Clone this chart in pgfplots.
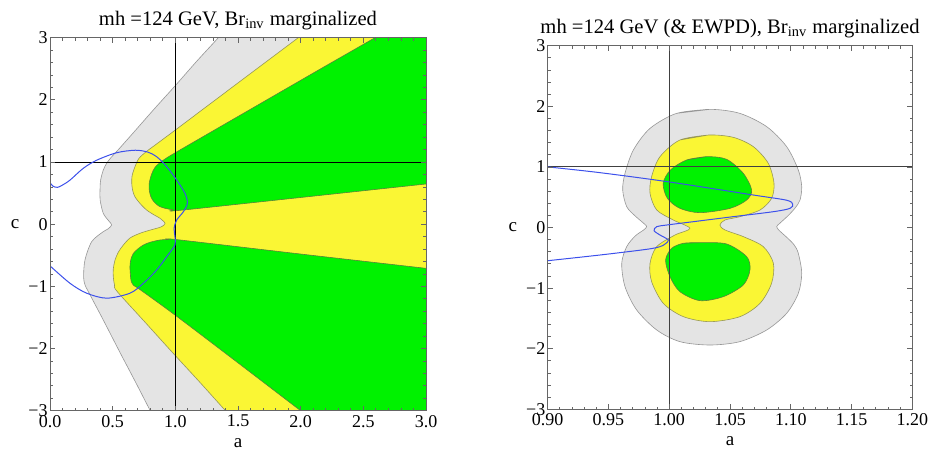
\documentclass[border=0pt]{standalone}
\usepackage{fontspec}
\setmainfont{Liberation Serif}
\usepackage{pgfplots}
\pgfplotsset{compat=1.18}
\definecolor{cgray}{RGB}{228,228,228}
\definecolor{cyellow}{RGB}{250,246,52}
\definecolor{cgreen}{RGB}{0,242,0}
\definecolor{egray}{RGB}{150,150,150}
\definecolor{eyellow}{RGB}{150,150,90}
\definecolor{egreen}{RGB}{90,130,60}
\definecolor{cblue}{RGB}{60,80,235}
\pgfplotsset{mystyle/.style={scale only axis, axis on top, tick align=inside,
  major tick length=2.6pt, minor tick length=1.4pt,
  axis line style={black!60, line width=0.4pt},
  every tick/.style={black!60, line width=0.4pt},
  /pgf/number format/assume math mode=true,
  tick label style={font=\fontsize{9}{10}\selectfont\rmfamily},
  yticklabel style={inner xsep=1pt},
  xticklabel style={inner ysep=2pt},
  every axis title shift=0pt,
  title style={font=\fontsize{10.3}{12}\selectfont, at={(0.5,1)}, anchor=base, yshift=6.3pt},
  label style={font=\fontsize{9.5}{11}\selectfont},
  ymin=-3, ymax=3, ytick={-3,-2,-1,0,1,2,3}, yticklabels={−3,−2,−1,0,1,2,3},
  minor y tick num=4, minor x tick num=4,
  ylabel=c, ylabel style={rotate=-90}, xlabel=a}}
\begin{document}
\begin{tikzpicture}[x=1pt,y=1pt]
\path[use as bounding box] (0,0) rectangle (465,227.5);
% ---------------- left panel ----------------
\begin{axis}[mystyle, at={(25pt,22.15pt)}, anchor=south west, width=188pt, height=186.5pt,
  xmin=0, xmax=3, xtick={0,0.5,1,1.5,2,2.5,3}, xticklabels={0.0,0.5,1.0,1.5,2.0,2.5,3.0},
  title={mh =124 GeV, Br\textsubscript{inv} marginalized}]
% gray region
\addplot[fill=cgray, draw=egray, line width=0.3pt, smooth] coordinates {
 (1.565,3.5) (1.343,3.0) (1.17,2.62) (1.0,2.23) (0.83,1.85) (0.66,1.46) (0.541,1.19)
 (0.49,1.08) (0.452,0.98) (0.425,0.87) (0.404,0.71) (0.399,0.55) (0.40,0.39) (0.425,0.175)
 (0.47,0.05) (0.492,-0.013) (0.46,-0.08) (0.425,-0.12) (0.333,-0.28) (0.279,-0.576)
 (0.268,-0.85) (0.28,-0.98) (0.31,-1.1) (0.43,-1.56) (0.555,-2.05) (0.68,-2.53) (0.80,-3.0)
 (0.93,-3.5) (3.5,-3.5) (3.5,3.5)} -- cycle;
% yellow region
\addplot[fill=cyellow, draw=eyellow, line width=0.3pt, smooth] coordinates {
 (2.31,3.5) (1.981,3.0) (1.65,2.5) (1.32,2.0) (1.0,1.515) (0.85,1.29) (0.77,1.17)
 (0.71,1.06) (0.678,0.925) (0.655,0.78) (0.652,0.658) (0.66,0.54) (0.678,0.44) (0.72,0.33)
 (0.771,0.228) (0.83,0.15) (0.878,0.095) (0.918,0.014) (0.89,-0.04) (0.851,-0.066)
 (0.79,-0.10) (0.718,-0.146) (0.64,-0.22) (0.585,-0.335) (0.545,-0.45) (0.519,-0.576)
 (0.505,-0.72) (0.505,-0.844) (0.515,-0.98) (0.535,-1.08) (0.76,-1.58) (0.98,-2.07)
 (1.19,-2.53) (1.40,-3.0) (1.625,-3.5) (3.5,-3.5) (3.5,3.5)} -- cycle;
% green upper
\addplot[fill=cgreen, draw=egreen, line width=0.3pt, smooth] coordinates {
 (3.02,3.5) (2.593,3.0) (2.16,2.5) (1.73,2.0) (1.30,1.5) (1.0,1.15) (0.904,1.03)
 (0.84,0.92) (0.81,0.80) (0.792,0.66) (0.792,0.55) (0.805,0.44) (0.83,0.36) (0.87,0.29)
 (0.92,0.255) (0.98,0.232) (1.03,0.222) (2.0,0.43) (3.0,0.647) (3.5,0.755) (3.5,3.5)} -- cycle;
% green lower
\addplot[fill=cgreen, draw=egreen, line width=0.3pt, smooth] coordinates {
 (3.5,-0.825) (3.0,-0.71) (2.0,-0.48) (1.02,-0.25) (0.95,-0.245) (0.878,-0.254)
 (0.80,-0.29) (0.745,-0.335) (0.70,-0.40) (0.665,-0.47) (0.645,-0.57) (0.638,-0.683)
 (0.643,-0.85) (0.65,-0.93) (0.67,-0.99) (0.71,-1.04) (0.997,-1.46) (1.5,-2.23)
 (2.0,-3.0) (2.33,-3.5) (3.5,-3.5)} -- cycle;
% reference lines
\addplot[black, line width=0.5pt] coordinates {(1,-3) (1,3)};
\addplot[black, line width=0.5pt] coordinates {(0,1) (3,1)};
% blue curve
\addplot[cblue, line width=0.5pt, smooth] coordinates {
 (0,0.67) (0.025,0.61) (0.06,0.593) (0.1,0.63) (0.16,0.71) (0.266,0.9) (0.373,1.03)
 (0.532,1.15) (0.68,1.19) (0.78,1.16) (0.851,1.086) (0.931,0.925) (1.011,0.711)
 (1.077,0.497) (1.096,0.336) (1.064,0.2) (1.011,0.068) (0.99,-0.066) (0.997,-0.2)
 (0.997,-0.335) (0.931,-0.523) (0.851,-0.737) (0.745,-0.951) (0.638,-1.11) (0.452,-1.19)
 (0.293,-1.11) (0.16,-0.951) (0,-0.67)};
\end{axis}
% ---------------- right panel ----------------
\begin{axis}[mystyle, at={(273.85pt,22.85pt)}, anchor=south west, width=182.3pt, height=181.8pt,
  xmin=0.9, xmax=1.2, xtick={0.90,0.95,1.00,1.05,1.10,1.15,1.20},
  xticklabels={0.90,0.95,1.00,1.05,1.10,1.15,1.20},
  title={mh =124 GeV (\& EWPD), Br\textsubscript{inv} marginalized}]
\addplot[fill=cgray, draw=egray, line width=0.3pt, smooth] coordinates {
 (1.0061,1.884) (1.0335,1.950) (1.058,1.884) (1.0802,1.664) (1.0966,1.334) (1.1062,0.949)
 (1.109,0.674) (1.1076,0.454) (1.1035,0.32) (1.0975,0.19) (1.091,0.07) (1.0884,0.014)
 (1.0905,-0.05) (1.0955,-0.14) (1.1025,-0.28) (1.1062,-0.426) (1.109,-0.756) (1.1062,-1.086)
 (1.0966,-1.416) (1.0802,-1.691) (1.058,-1.884) (1.0335,-1.939) (1.0088,-1.884)
 (0.9897,-1.691) (0.9732,-1.361) (0.9636,-0.976) (0.9609,-0.591) (0.965,-0.316)
 (0.972,-0.14) (0.979,-0.04) (0.9814,0.014) (0.9795,0.06) (0.972,0.19) (0.965,0.344)
 (0.9617,0.619) (0.9636,0.894) (0.9705,1.279) (0.9842,1.636) (1.0061,1.884) (1.0335,1.950)} -- cycle;
\addplot[fill=cyellow, draw=eyellow, line width=0.3pt, smooth] coordinates {
 (1.0088,1.444) (1.0322,1.526) (1.0527,1.488) (1.0692,1.334) (1.0815,1.059) (1.0862,0.729)
 (1.0842,0.481) (1.0747,0.289) (1.0582,0.179) (1.0459,0.124) (1.0417,0.041) (1.0459,-0.041)
 (1.061,-0.151) (1.0774,-0.316) (1.0857,-0.591) (1.0842,-0.921) (1.0747,-1.251)
 (1.0582,-1.471) (1.0335,-1.554) (1.0116,-1.471) (0.9951,-1.251) (0.9855,-0.894)
 (0.9842,-0.591) (0.9897,-0.316) (1.0047,-0.124) (1.017,-0.014) (1.0033,0.124)
 (0.9897,0.289) (0.9842,0.564) (0.9855,0.839) (0.9924,1.169) (1.0088,1.444) (1.0322,1.526)} -- cycle;
\addplot[fill=cgreen, draw=egreen, line width=0.3pt, smooth] coordinates {
 (1.0143,1.114) (1.0308,1.169) (1.0472,1.125) (1.0609,0.894) (1.0678,0.619) (1.0637,0.454)
 (1.05,0.316) (1.0253,0.245) (1.0088,0.316) (0.9985,0.481) (0.995,0.729) (1.0010,0.949)
 (1.0143,1.114) (1.0308,1.169)} -- cycle;
\addplot[fill=cgreen, draw=egreen, line width=0.3pt, smooth] coordinates {
 (1.0116,-0.261) (1.0253,-0.25) (1.0472,-0.272) (1.0637,-0.481) (1.0664,-0.701)
 (1.0609,-0.949) (1.0445,-1.141) (1.0253,-1.207) (1.0088,-1.059) (1.0006,-0.811)
 (0.997,-0.536) (1.002,-0.344) (1.0116,-0.261) (1.0253,-0.25)} -- cycle;
\addplot[black!75, line width=0.5pt] coordinates {(1,-3) (1,3)};
\addplot[black!75, line width=0.5pt] coordinates {(0.9,1) (1.2,1)};
\addplot[cblue, line width=0.5pt, smooth] coordinates {
 (0.9,1.0) (0.943,0.905) (1.0006,0.75) (1.0692,0.536) (1.0966,0.45) (1.1016,0.385)
 (1.0994,0.316) (1.0857,0.261) (1.0527,0.179) (1.0198,0.096) (0.9979,0.041) (0.9897,0.014)
 (0.9875,-0.052) (0.9924,-0.124) (0.9993,-0.206) (0.9966,-0.272) (0.9924,-0.316)
 (0.9814,-0.36) (0.943,-0.454) (0.9,-0.548)};
\end{axis}
\end{tikzpicture}
\end{document}
